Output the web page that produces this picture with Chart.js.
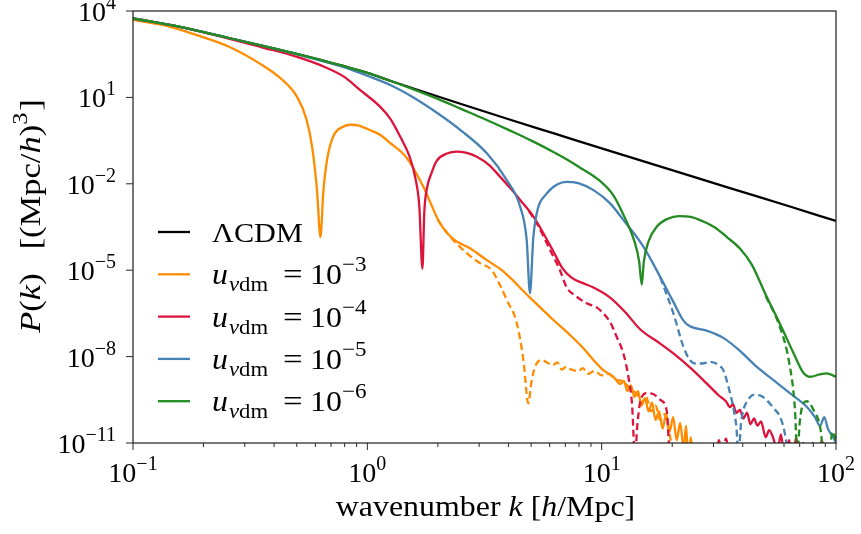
<!DOCTYPE html>
<html>
<head>
<meta charset="utf-8">
<script src="https://cdn.jsdelivr.net/npm/chart.js@4.4.1/dist/chart.umd.min.js"></script>
<style>
  html, body { margin: 0; padding: 0; background: #fff; }
  #pk { display: block; }
</style>
</head>
<body>
<canvas id="pk" width="861" height="534"></canvas>
<script>
// all points are [log10 k, log10 P]
const lcdm = [[-1,3.74],[-0.8,3.45],[-0.6,3.08],[-0.4,2.7],[-0.2,2.3],[0,1.85],[0.1,1.57],[0.2,1.3],[0.4,0.77],[0.6,0.25],[0.8,-0.26],[1.0,-0.77],[1.2,-1.27],[1.4,-1.78],[1.6,-2.28],[1.8,-2.78],[2.0,-3.29]];

const u3 = [[-1,3.69],[-0.87,3.51],[-0.73,3.17],[-0.59,2.76],[-0.45,2.13],[-0.37,1.66],[-0.3,1.02],[-0.26,0.25],[-0.235,-0.75],[-0.215,-2.2],[-0.2,-3.85],[-0.188,-2.3],[-0.172,-1.17],[-0.146,-0.36],[-0.104,-0.02],[-0.07,0.05],[-0.04,0.03],[0.01,-0.13],[0.054,-0.3],[0.097,-0.58],[0.168,-1.1],[0.239,-2.1],[0.31,-3.37],[0.367,-3.92],[0.438,-4.24],[0.51,-4.65],[0.574,-5.0],[0.694,-5.95],[0.794,-6.73],[0.865,-7.25],[0.922,-7.71],[0.965,-8.12],[1.007,-8.47],[1.05,-8.7],[1.08,-8.95],[1.095,-8.85],[1.11,-9.2],[1.125,-9.0],[1.14,-9.4],[1.155,-9.2],[1.17,-9.7],[1.185,-9.45],[1.2,-9.9],[1.215,-9.6],[1.23,-10.2],[1.245,-9.9],[1.26,-10.5],[1.275,-10.0],[1.29,-10.6],[1.305,-10.1],[1.32,-10.9],[1.335,-10.3],[1.35,-11.2],[1.36,-10.4],[1.37,-11.6],[1.38,-10.8],[1.39,-11.6]];
const u3dash = [[0.3,-3.25],[0.35,-3.8],[0.424,-4.41],[0.48,-4.75],[0.531,-5.0],[0.565,-5.5],[0.595,-6.03],[0.638,-6.84],[0.666,-8.12],[0.687,-9.62],[0.7,-8.9],[0.716,-8.35],[0.744,-8.12],[0.77,-8.22],[0.79,-8.3],[0.81,-8.2],[0.83,-8.45],[0.85,-8.35],[0.87,-8.45],[0.9,-8.5],[0.92,-8.4],[0.94,-8.6],[0.97,-8.5],[1.0,-8.65],[1.03,-8.6],[1.06,-8.8],[1.09,-8.85],[1.12,-9.1],[1.15,-9.3],[1.17,-9.6],[1.19,-9.4],[1.21,-9.9],[1.23,-9.7],[1.25,-10.2],[1.27,-10.0],[1.29,-10.7],[1.31,-11.6]];

const u4 = [[-1,3.74],[-0.8,3.45],[-0.6,3.06],[-0.45,2.74],[-0.3,2.41],[-0.2,2.12],[-0.1,1.72],[-0.03,1.25],[0.054,0.68],[0.097,0.27],[0.14,-0.36],[0.18,-1.05],[0.205,-1.8],[0.222,-2.8],[0.235,-4.95],[0.243,-3.0],[0.253,-2.22],[0.275,-1.6],[0.296,-1.2],[0.34,-0.95],[0.381,-0.88],[0.42,-0.92],[0.467,-1.06],[0.52,-1.35],[0.566,-1.75],[0.61,-2.15],[0.652,-2.56],[0.709,-3.14],[0.75,-3.7],[0.794,-4.35],[0.83,-4.9],[0.87,-5.25],[0.92,-5.45],[0.965,-5.6],[1.036,-5.95],[1.1,-6.45],[1.164,-7.05],[1.25,-7.55],[1.306,-7.89],[1.38,-8.4],[1.448,-8.93],[1.5,-9.35],[1.53,-9.55],[1.548,-9.75],[1.56,-9.65],[1.575,-9.95],[1.59,-9.85],[1.605,-10.15],[1.62,-9.95],[1.635,-10.35],[1.65,-10.15],[1.665,-10.4],[1.68,-10.25],[1.7,-10.8],[1.715,-10.55],[1.733,-10.85],[1.75,-11.3],[1.765,-10.7],[1.78,-11.5],[1.8,-10.9],[1.815,-11.6],[1.83,-10.8],[1.845,-11.6],[1.86,-11.0],[1.875,-11.7],[1.9,-11.0],[1.92,-11.6],[1.94,-10.9],[1.955,-11.6],[1.97,-11.1],[1.985,-11.7],[2.0,-11.3]];
const u4dash = [[0.69,-2.95],[0.723,-3.37],[0.78,-4.3],[0.822,-5.0],[0.851,-5.6],[0.89,-5.9],[0.936,-6.15],[0.98,-6.3],[1.007,-6.5],[1.036,-6.8],[1.064,-7.31],[1.093,-7.9],[1.114,-8.7],[1.13,-9.7],[1.142,-11.5],[1.152,-10.4],[1.164,-9.6],[1.192,-9.27],[1.22,-9.3],[1.25,-9.5],[1.278,-9.9],[1.292,-11.5],[1.49,-11.5],[1.5,-10.9],[1.515,-11.4],[1.53,-10.85],[1.545,-11.5]];

const u5 = [[-1,3.74],[-0.8,3.45],[-0.6,3.08],[-0.4,2.7],[-0.2,2.28],[-0.1,2.05],[0,1.75],[0.1,1.42],[0.2,0.98],[0.3,0.45],[0.4,-0.15],[0.51,-0.94],[0.595,-1.87],[0.652,-2.79],[0.68,-3.95],[0.694,-5.8],[0.708,-3.9],[0.723,-3.02],[0.766,-2.33],[0.81,-2.02],[0.851,-1.93],[0.9,-1.98],[0.965,-2.22],[1.036,-2.68],[1.093,-3.26],[1.178,-4.18],[1.249,-5.22],[1.306,-6.1],[1.349,-6.75],[1.377,-6.95],[1.448,-7.1],[1.519,-7.35],[1.59,-7.8],[1.661,-8.35],[1.732,-8.81],[1.803,-9.27],[1.875,-9.74],[1.91,-10.1],[1.932,-10.4],[1.95,-10.1],[1.965,-10.5],[1.989,-10.8],[2.0,-11.0]];
const u5dash = [[1.25,-5.25],[1.306,-6.5],[1.349,-7.66],[1.375,-8.1],[1.399,-8.24],[1.43,-8.24],[1.463,-8.18],[1.5,-8.3],[1.519,-8.47],[1.548,-9.27],[1.565,-9.9],[1.576,-10.55],[1.583,-11.5],[1.595,-10.3],[1.605,-9.85],[1.625,-9.5],[1.648,-9.33],[1.675,-9.35],[1.704,-9.51],[1.735,-9.8],[1.761,-10.09],[1.78,-10.6],[1.797,-11.5]];

const u6 = [[-1,3.74],[-0.8,3.45],[-0.6,3.08],[-0.4,2.7],[-0.2,2.3],[0,1.85],[0.1,1.57],[0.2,1.27],[0.3,0.95],[0.4,0.6],[0.5,0.25],[0.6,-0.12],[0.7,-0.5],[0.8,-0.92],[0.85,-1.15],[0.9,-1.4],[1.0,-1.95],[1.05,-2.4],[1.1,-3.2],[1.14,-4.0],[1.16,-4.7],[1.171,-5.5],[1.18,-4.7],[1.2,-4.0],[1.235,-3.49],[1.28,-3.22],[1.33,-3.12],[1.38,-3.15],[1.42,-3.26],[1.48,-3.5],[1.533,-3.84],[1.59,-4.25],[1.64,-4.8],[1.7,-5.85],[1.76,-6.85],[1.82,-7.9],[1.86,-8.55],[1.89,-8.7],[1.93,-8.62],[1.96,-8.58],[2.0,-8.7]];
const u6dash = [[1.7,-5.9],[1.76,-6.96],[1.8,-8.2],[1.825,-9.85],[1.835,-11.5],[1.845,-10.3],[1.861,-9.62],[1.875,-9.55],[1.904,-9.85],[1.932,-10.43],[1.95,-11.5],[1.97,-11.5],[1.985,-10.6],[2.0,-10.9]];

const uExps = ['−3', '−4', '−5', '−6'];
const colors = ['#ff8c00', '#dc143c', '#4682b4', '#228b22'];
const xTicks = [0.1, 1, 10, 100];
const xMinor = [2, 3, 4, 5, 6, 7, 8, 9];
const yTicks = [1e4, 1e1, 1e-2, 1e-5, 1e-8, 1e-11];

const SERIF = '"Liberation Serif", "DejaVu Serif", serif';
const pts = arr => arr.map(([lk, lp]) => ({ x: 10 ** lk, y: 10 ** lp }));

const solid = [u3, u4, u5, u6];
const dashed = [u3dash, u4dash, u5dash, u6dash];
const datasets = [{ data: pts(lcdm), borderColor: '#000' }];
solid.forEach((s, i) => {
  datasets.push({ data: pts(s), borderColor: colors[i] });
  datasets.push({ data: pts(dashed[i]), borderColor: colors[i], borderDash: [7, 4] });
});
datasets.forEach((d, i) => {
  Object.assign(d, { borderWidth: 2.3, pointRadius: 0, fill: false, cubicInterpolationMode: 'monotone', order: -i });
});

function fontOf(p) { return (p.i ? 'italic ' : '') + p.s + 'px ' + SERIF; }
// draw text runs, optionally stretched horizontally by sx
function drawRuns(ctx, parts, x, y, align, sx) {
  sx = sx || 1;
  let w = 0;
  parts.forEach(p => { ctx.font = fontOf(p); w += ctx.measureText(p.t).width * sx + (p.gap || 0); });
  let cx = align === 'center' ? x - w / 2 : align === 'right' ? x - w : x;
  parts.forEach(p => {
    ctx.font = fontOf(p);
    cx += p.gap || 0;
    ctx.save();
    ctx.translate(cx, y + (p.dy || 0));
    ctx.scale(sx, 1);
    ctx.fillText(p.t, 0, 0);
    ctx.restore();
    cx += ctx.measureText(p.t).width * sx;
  });
  return w;
}
const BIG = 28, SUP = 20;
function powParts(v) {
  const e = Math.round(Math.log10(v));
  return [{ t: '10', s: BIG }, { t: (e < 0 ? '−' : '') + Math.abs(e), s: SUP, dy: -12 }];
}

const decor = {
  id: 'decor',
  afterDraw(chart) {
    const { ctx, chartArea: a, scales: { x, y } } = chart;
    ctx.save();
    ctx.strokeStyle = '#262626';
    ctx.lineWidth = 1.25;
    ctx.strokeRect(a.left, a.top, a.right - a.left, a.bottom - a.top);

    // ticks
    ctx.lineWidth = 1;
    ctx.beginPath();
    xTicks.forEach((t, i) => {
      const px = x.getPixelForValue(t);
      ctx.moveTo(px, a.bottom); ctx.lineTo(px, a.bottom + 7);
      if (i < xTicks.length - 1) xMinor.forEach(m => {
        const mx = x.getPixelForValue(t * m);
        ctx.moveTo(mx, a.bottom); ctx.lineTo(mx, a.bottom + 4);
      });
    });
    yTicks.forEach(t => {
      const py = y.getPixelForValue(t);
      ctx.moveTo(a.left, py); ctx.lineTo(a.left - 7, py);
    });
    ctx.stroke();

    ctx.fillStyle = '#000';
    ctx.textBaseline = 'alphabetic';
    ctx.textAlign = 'left';
    xTicks.forEach(t => drawRuns(ctx, powParts(t), x.getPixelForValue(t), a.bottom + 39, 'center'));
    yTicks.forEach(t => drawRuns(ctx, powParts(t), a.left - 17, y.getPixelForValue(t) + 10, 'right'));

    // axis titles
    drawRuns(ctx, [
      { t: 'wavenumber ', s: 29 }, { t: 'k', s: 29, i: true }, { t: ' [', s: 29 },
      { t: 'h', s: 29, i: true }, { t: '/Mpc]', s: 29 }
    ], (a.left + a.right) / 2 + 1, a.bottom + 73, 'center', 1.1);

    ctx.save();
    ctx.translate(40, 216);
    ctx.rotate(-Math.PI / 2);
    drawRuns(ctx, [
      { t: 'P', s: 30, i: true }, { t: '(', s: 30 }, { t: 'k', s: 30, i: true }, { t: ')', s: 30 },
      { t: '[(Mpc/', s: 30, gap: 24 }, { t: 'h', s: 30, i: true }, { t: ')', s: 30 },
      { t: '3', s: 21, dy: -13 }, { t: ']', s: 30, gap: 2 }
    ], 0, 0, 'center', 1.15);
    ctx.restore();

    // legend
    const rows = [{ color: '#000' }].concat(colors.map((c, i) => ({ color: c, exp: uExps[i] })));
    rows.forEach((r, i) => {
      const cy = 232 + i * 42.3;
      ctx.strokeStyle = r.color;
      ctx.lineWidth = 2.3;
      ctx.beginPath(); ctx.moveTo(158, cy); ctx.lineTo(190, cy); ctx.stroke();
      if (!r.exp) {
        drawRuns(ctx, [{ t: 'ΛCDM', s: 28 }], 212, cy + 10, 'left', 1.08);
      } else {
        drawRuns(ctx, [{ t: 'u', s: 29, i: true }], 212, cy + 10, 'left', 1.1);
        drawRuns(ctx, [{ t: 'ν', s: 21, i: true }, { t: 'dm', s: 21 }], 229, cy + 17, 'left', 1.08);
        drawRuns(ctx, [{ t: '=', s: 29 }], 283, cy + 10, 'left', 1.2);
        drawRuns(ctx, [{ t: '10', s: 29 }, { t: r.exp, s: 21, dy: -13 }], 310, cy + 10, 'left', 1.1);
      }
    });
    ctx.restore();
  }
};

new Chart(document.getElementById('pk'), {
  type: 'line',
  data: { datasets },
  options: {
    responsive: false,
    animation: false,
    devicePixelRatio: 1,
    layout: { padding: { left: 0, right: 25, top: 11, bottom: 0 } },
    plugins: { legend: { display: false }, tooltip: { enabled: false } },
    scales: {
      x: {
        type: 'logarithmic', min: 0.1, max: 100,
        ticks: { display: false }, grid: { display: false }, border: { display: false },
        afterFit(s) { s.height = 91; }
      },
      y: {
        type: 'logarithmic', min: 1e-11, max: 1e4,
        ticks: { display: false }, grid: { display: false }, border: { display: false },
        afterFit(s) { s.width = 133; }
      }
    }
  },
  plugins: [decor]
});
</script>
</body>
</html>
